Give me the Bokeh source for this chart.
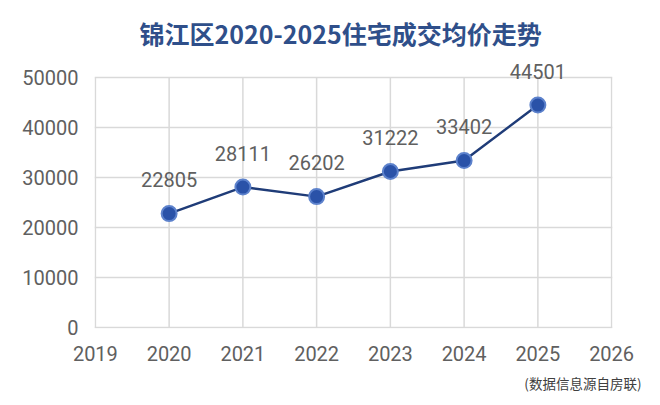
from bokeh.plotting import figure
from bokeh.models import Range1d, FixedTicker, Title, ColumnDataSource, LabelSet
from bokeh.embed import file_html
from bokeh.resources import INLINE
from bokeh.core.properties import value

title_text = "锦江区2020-2025住宅成交均价走势"
source_text = "(数据信息源自房联)"
years = [2020, 2021, 2022, 2023, 2024, 2025]
prices = [22805, 28111, 26202, 31222, 33402, 44501]
x_ticks = [2019, 2020, 2021, 2022, 2023, 2024, 2025, 2026]
y_ticks = [0, 10000, 20000, 30000, 40000, 50000]

src = ColumnDataSource(dict(x=years, y=prices, t=[str(v) for v in prices]))

x0, x1 = x_ticks[0], x_ticks[-1]
y0, y1 = y_ticks[0], y_ticks[-1]

p = figure(width=644, height=400, output_backend="svg", toolbar_location=None,
           x_range=Range1d(x0 - 0.012, x1 + 0.012),
           y_range=Range1d(y0 - 150, y1 * 1.1),
           min_border_left=94, min_border_right=32, min_border_top=52, min_border_bottom=71)

p.outline_line_color = None

grid_col = "#d9d9d9"
p.xgrid.visible = False
p.ygrid.ticker = FixedTicker(ticks=y_ticks)
p.ygrid.bounds = (x0, x1)
p.ygrid.grid_line_color = grid_col
p.ygrid.grid_line_width = 1.5
p.segment(x0=x_ticks, y0=[y0] * len(x_ticks), x1=x_ticks, y1=[y1] * len(x_ticks),
          line_color=grid_col, line_width=1.5, level="underlay")

lab_font = "Roboto"
lab_col = "#606060"
p.xaxis.ticker = FixedTicker(ticks=x_ticks)
p.yaxis.ticker = FixedTicker(ticks=y_ticks)
for ax in (p.xaxis, p.yaxis):
    ax.axis_line_color = None
    ax.major_tick_line_color = None
    ax.minor_tick_line_color = None
    ax.major_tick_out = 0
    ax.major_tick_in = 0
    ax.major_label_text_font = lab_font
    ax.major_label_text_font_size = "20px"
    ax.major_label_text_color = lab_col
p.xaxis.major_label_standoff = 17
p.yaxis.major_label_standoff = 16

p.line("x", "y", source=src, line_color="#1f3c78", line_width=2.5)
p.scatter("x", "y", source=src, size=15, fill_color="#2a52a8",
          line_color="#5d82cc", line_width=2)
labels = LabelSet(x="x", y="y", text="t", source=src, text_align="center",
                  text_baseline="middle", y_offset=34, text_font=value(lab_font),
                  text_font_size=value("20px"), text_color=value(lab_col))
p.add_layout(labels)

t = Title(text=title_text, align="left", offset=45, standoff=3,
          text_font="Noto Sans CJK SC", text_font_style="bold",
          text_font_size="25px", text_color="#2f4f8a")
p.add_layout(t, "above")

s = Title(text=source_text, align="right", offset=-29, standoff=15,
          text_font="Noto Sans CJK SC", text_font_style="normal",
          text_font_size="13.5px", text_color="#404040")
p.add_layout(s, "below")

open("out.html", "w").write(file_html(p, INLINE))
